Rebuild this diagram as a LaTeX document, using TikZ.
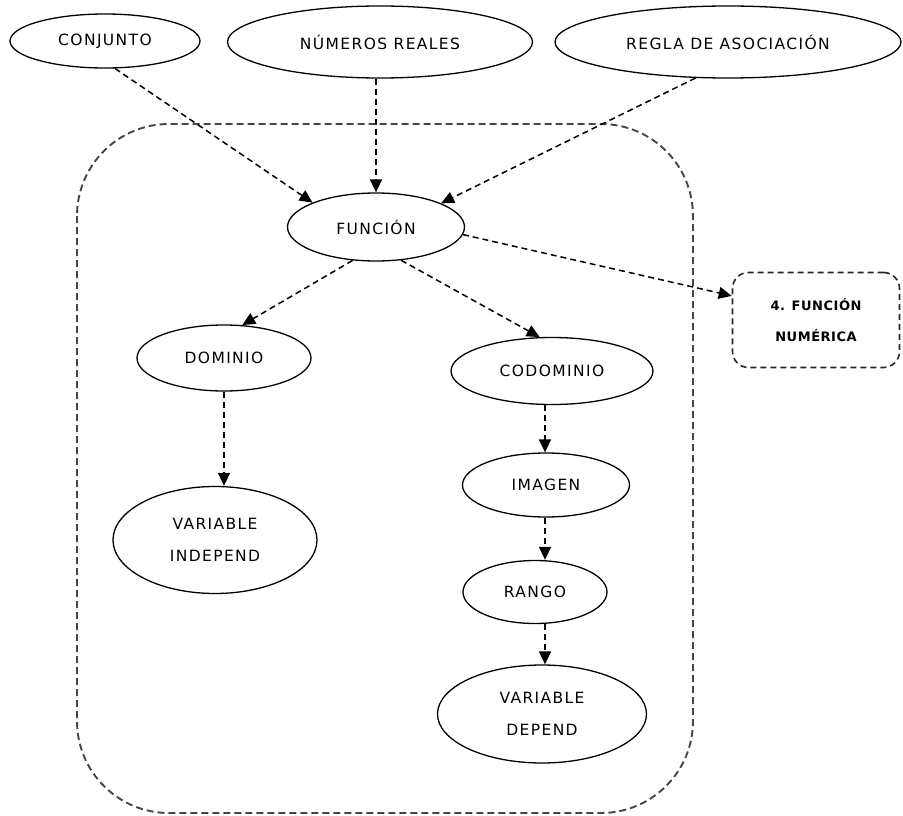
\documentclass[tikz,border=0pt]{standalone}
\usepackage{fontspec}
\setmainfont{DejaVu Sans}[LetterSpace=9]
\newfontfamily\boxfont{DejaVu Sans}[LetterSpace=4]
\usetikzlibrary{shapes.geometric,arrows.meta,calc}
\definecolor{framegray}{RGB}{70,70,70}
\begin{document}
\begin{tikzpicture}[x=1pt,y=-1pt,
  concept/.style={ellipse, draw=black, line width=1.3pt, fill=white, inner sep=0pt,
    align=center, font=\fontsize{15.5}{32}\selectfont},
  link/.style={draw=black, line width=1.5pt, dash pattern=on 6pt off 4pt,
    -{Triangle[length=13pt,width=12pt]}},
  frame/.style={draw=framegray, line width=1.9pt, dash pattern=on 7pt off 4pt,
    rounded corners=92pt},
  notebox/.style={rectangle, draw=black!85, line width=1.6pt, dash pattern=on 6pt off 4pt,
    rounded corners=16pt, fill=white, inner sep=0pt, align=center,
    minimum width=167pt, minimum height=95pt,
    font=\boxfont\bfseries\fontsize{13}{31}\selectfont}
]
\useasboundingbox (0,0) rectangle (903,816);

% enclosing dashed region
\draw[frame] (77,124) rectangle (693,813);

% concepts
\node[concept, minimum width=190pt, minimum height=54pt] (conj) at (105,41) {CONJUNTO};
\node[concept, minimum width=305pt, minimum height=72pt] (num) at (380,42) {NÚMEROS REALES};
\node[concept, minimum width=346pt, minimum height=72pt] (regla) at (728,42) {REGLA DE ASOCIACIÓN};
\node[concept, minimum width=177pt, minimum height=68pt] (func) at (376,227) {FUNCIÓN};
\node[notebox] (numf) at (816,320) {4. FUNCIÓN\\NUMÉRICA};
\node[concept, minimum width=174pt, minimum height=66pt] (dom) at (224,358) {DOMINIO};
\node[concept, minimum width=202pt, minimum height=67pt] (codom) at (552,371) {CODOMINIO};
\node[concept, minimum width=204pt, minimum height=107pt] (varind) at (215,540) {VARIABLE\\INDEPEND};
\node[concept, minimum width=167pt, minimum height=64pt] (imagen) at (546,485) {IMAGEN};
\node[concept, minimum width=144pt, minimum height=63pt] (rango) at (535,592) {RANGO};
\node[concept, minimum width=209pt, minimum height=98pt] (vardep) at (542,714) {VARIABLE\\DEPEND};

\coordinate (chain) at (545,0);

% connectors
\draw[link] (conj.-70) -- (func.159);
\draw[link] (func.north |- num.south) -- (func.north);
\draw[link] (regla.-132) -- (func.20);
\draw[link] (func.-5) -- (numf.164.5);
\draw[link] (func.-125) -- (dom.61);
\draw[link] (func.-53) -- (codom.110);
\draw[link] (dom.south) -- (dom.south |- varind.north);
\draw[link] (chain |- codom.south) -- (chain |- imagen.north);
\draw[link] (chain |- imagen.south) -- (chain |- rango.north);
\draw[link] (chain |- rango.south) -- (chain |- vardep.north);
\end{tikzpicture}
\end{document}
